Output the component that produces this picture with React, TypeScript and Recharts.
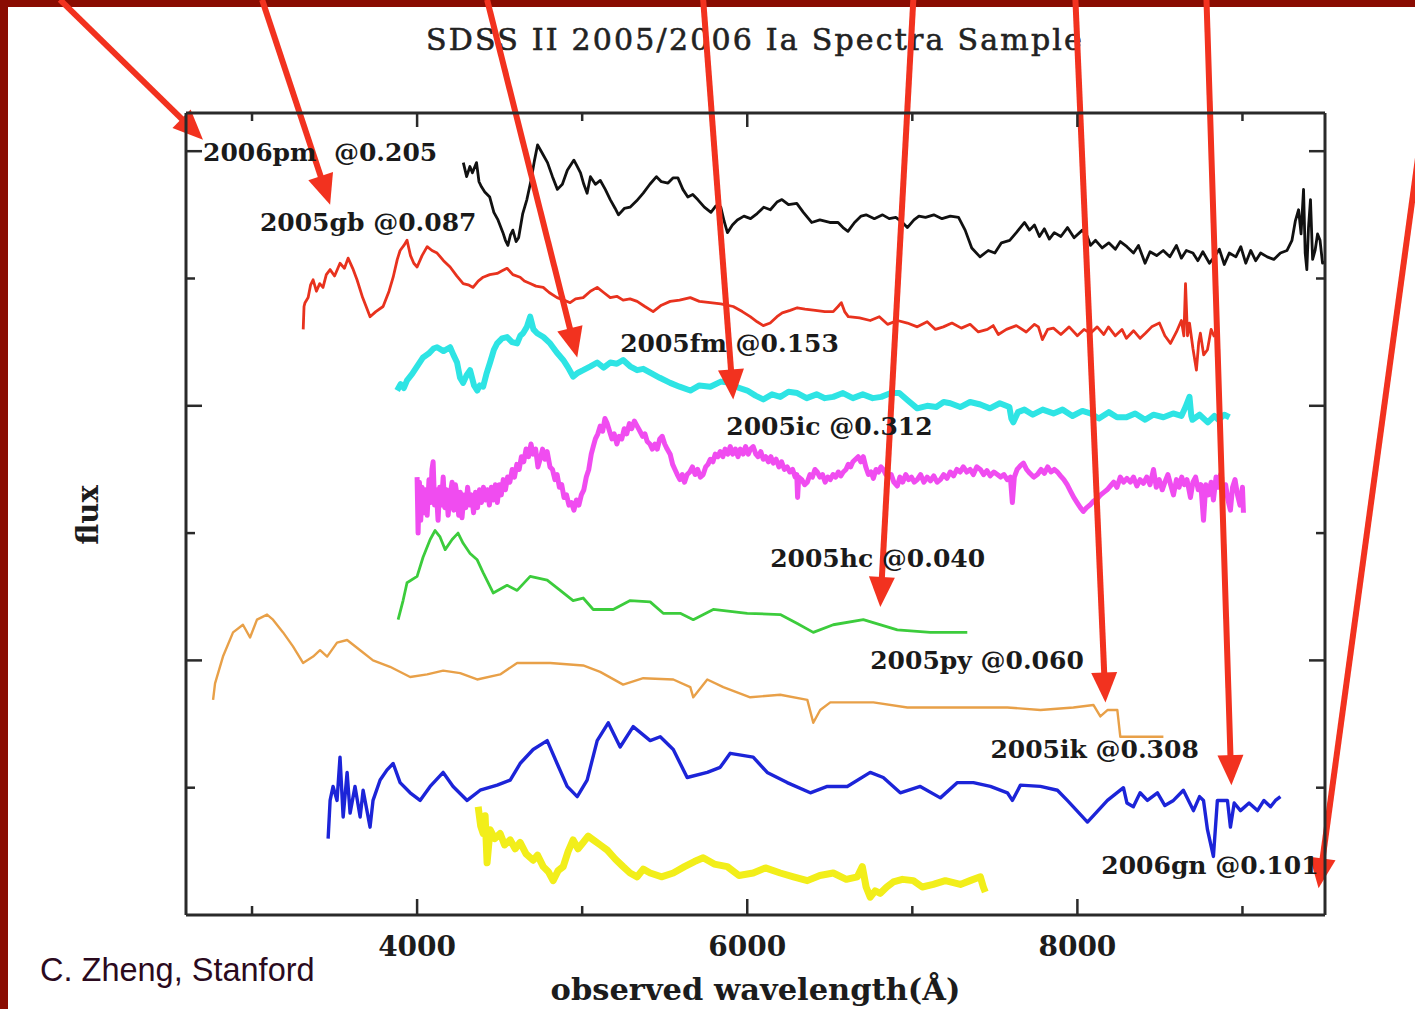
import React from "react"
import { ComposedChart, Line, Scatter, XAxis, YAxis, ReferenceLine } from "recharts"

// wavelength (Å), flux (arbitrary units, each spectrum offset)
const sn2006pm = [
  [4280, 5.91], [4300, 5.8], [4320, 5.88], [4335, 5.83], [4360, 5.91], [4375, 5.76], [4390, 5.72], [4410, 5.68],
  [4440, 5.64], [4465, 5.52], [4490, 5.46], [4520, 5.36], [4535, 5.3], [4550, 5.26], [4565, 5.34], [4580, 5.38],
  [4600, 5.29], [4615, 5.32], [4640, 5.51], [4665, 5.62], [4690, 5.77], [4710, 5.92], [4730, 6.05], [4760, 5.98],
  [4790, 5.91], [4820, 5.8], [4850, 5.7], [4880, 5.74], [4910, 5.85], [4950, 5.93], [4970, 5.88], [4990, 5.83],
  [5010, 5.74], [5030, 5.67], [5050, 5.8], [5080, 5.74], [5110, 5.77], [5140, 5.7], [5170, 5.62], [5200, 5.55],
  [5220, 5.5], [5255, 5.55], [5290, 5.56], [5330, 5.61], [5370, 5.67], [5410, 5.74], [5450, 5.8], [5480, 5.76],
  [5520, 5.75], [5550, 5.79], [5580, 5.79], [5610, 5.7], [5640, 5.64], [5670, 5.66], [5700, 5.62], [5740, 5.56],
  [5780, 5.52], [5810, 5.57], [5840, 5.56], [5860, 5.45], [5880, 5.36], [5910, 5.42], [5940, 5.46], [5980, 5.49],
  [6020, 5.47], [6060, 5.51], [6100, 5.56], [6140, 5.54], [6180, 5.6], [6210, 5.62], [6250, 5.58], [6300, 5.59],
  [6340, 5.52], [6390, 5.44], [6440, 5.46], [6500, 5.44], [6550, 5.44], [6580, 5.4], [6610, 5.37], [6650, 5.44],
  [6690, 5.49], [6720, 5.5], [6770, 5.47], [6820, 5.5], [6860, 5.47], [6900, 5.48], [6940, 5.44], [6970, 5.4],
  [7010, 5.46], [7040, 5.49], [7080, 5.48], [7130, 5.5], [7180, 5.47], [7230, 5.49], [7280, 5.48], [7320, 5.38],
  [7360, 5.24], [7410, 5.17], [7460, 5.22], [7500, 5.2], [7540, 5.28], [7590, 5.3], [7630, 5.36], [7680, 5.44],
  [7710, 5.38], [7740, 5.42], [7770, 5.33], [7800, 5.39], [7830, 5.31], [7860, 5.36], [7900, 5.33], [7940, 5.4],
  [7980, 5.32], [8030, 5.38], [8060, 5.33], [8080, 5.26], [8110, 5.3], [8150, 5.24], [8190, 5.28], [8230, 5.23],
  [8260, 5.29], [8300, 5.25], [8340, 5.2], [8370, 5.26], [8410, 5.12], [8440, 5.21], [8480, 5.18], [8520, 5.22],
  [8560, 5.17], [8600, 5.26], [8630, 5.16], [8660, 5.22], [8700, 5.2], [8730, 5.14], [8760, 5.21], [8800, 5.12],
  [8830, 5.17], [8860, 5.23], [8890, 5.11], [8920, 5.2], [8960, 5.17], [8990, 5.25], [9020, 5.12], [9050, 5.22],
  [9080, 5.14], [9110, 5.2], [9150, 5.17], [9190, 5.15], [9230, 5.2], [9270, 5.22], [9300, 5.3], [9320, 5.45],
  [9340, 5.54], [9355, 5.35], [9370, 5.7], [9380, 5.2], [9390, 5.07], [9400, 5.4], [9412, 5.62], [9425, 5.15],
  [9440, 5.22], [9455, 5.35], [9470, 5.3], [9485, 5.12], [9500, 5.13],
]

const sn2005gb = [
  [3310, 4.6], [3315, 4.78], [3321, 4.81], [3340, 4.85], [3355, 4.95], [3370, 4.99], [3390, 4.9], [3410, 4.96],
  [3430, 4.93], [3450, 5.03], [3473, 5.07], [3500, 5.02], [3533, 5.12], [3560, 5.08], [3582, 5.16], [3610, 5.08],
  [3636, 4.99], [3670, 4.85], [3700, 4.75], [3715, 4.7], [3750, 4.74], [3794, 4.78], [3830, 4.9], [3855, 5.01],
  [3880, 5.15], [3897, 5.22], [3920, 5.26], [3939, 5.3], [3960, 5.18], [3980, 5.12], [4000, 5.09], [4030, 5.18],
  [4061, 5.25], [4090, 5.22], [4121, 5.2], [4160, 5.14], [4200, 5.09], [4240, 5.02], [4279, 4.96], [4310, 4.95],
  [4339, 4.93], [4370, 4.98], [4400, 5.01], [4440, 5.03], [4485, 5.04], [4515, 5.06], [4545, 5.08], [4580, 5.03],
  [4624, 5.01], [4650, 4.98], [4685, 4.96], [4720, 4.94], [4764, 4.93], [4800, 4.89], [4848, 4.85], [4890, 4.83],
  [4927, 4.81], [4960, 4.84], [5006, 4.85], [5050, 4.9], [5091, 4.93], [5130, 4.89], [5170, 4.85], [5210, 4.86],
  [5248, 4.83], [5290, 4.84], [5333, 4.82], [5380, 4.78], [5430, 4.74], [5480, 4.79], [5533, 4.82], [5590, 4.83],
  [5655, 4.85], [5710, 4.82], [5776, 4.81], [5840, 4.8], [5915, 4.78], [5970, 4.74], [6018, 4.7], [6060, 4.66],
  [6097, 4.63], [6139, 4.65], [6180, 4.7], [6212, 4.73], [6260, 4.75], [6303, 4.77], [6350, 4.76], [6412, 4.75],
  [6470, 4.74], [6521, 4.74], [6550, 4.78], [6570, 4.81], [6590, 4.74], [6612, 4.7], [6680, 4.69], [6745, 4.67],
  [6800, 4.7], [6850, 4.64], [6910, 4.67], [6970, 4.65], [7030, 4.62], [7090, 4.66], [7140, 4.6], [7188, 4.62],
  [7240, 4.65], [7297, 4.61], [7350, 4.64], [7400, 4.58], [7455, 4.6], [7490, 4.63], [7521, 4.56], [7570, 4.6],
  [7630, 4.63], [7690, 4.58], [7740, 4.64], [7764, 4.62], [7788, 4.52], [7820, 4.6], [7855, 4.61], [7900, 4.56],
  [7950, 4.62], [8000, 4.55], [8040, 4.6], [8079, 4.57], [8120, 4.62], [8160, 4.56], [8188, 4.62], [8230, 4.55],
  [8270, 4.6], [8297, 4.53], [8340, 4.59], [8380, 4.53], [8412, 4.57], [8450, 4.62], [8497, 4.65], [8530, 4.55],
  [8564, 4.49], [8600, 4.58], [8630, 4.67], [8645, 4.55], [8655, 4.96], [8667, 4.55], [8679, 4.65], [8700, 4.45],
  [8721, 4.28], [8735, 4.5], [8745, 4.57], [8765, 4.4], [8788, 4.44], [8810, 4.6], [8830, 4.54],
]

const sn2005fm = [
  [3879, 4.12], [3900, 4.17], [3920, 4.14], [3939, 4.2], [3970, 4.25], [4000, 4.31], [4036, 4.38], [4070, 4.41],
  [4100, 4.45], [4121, 4.46], [4160, 4.43], [4200, 4.46], [4220, 4.4], [4242, 4.34], [4260, 4.22], [4279, 4.18],
  [4300, 4.24], [4321, 4.28], [4345, 4.16], [4364, 4.12], [4380, 4.16], [4400, 4.15], [4420, 4.25], [4442, 4.34],
  [4465, 4.44], [4485, 4.49], [4515, 4.53], [4545, 4.54], [4575, 4.5], [4606, 4.49], [4625, 4.55], [4642, 4.57],
  [4665, 4.62], [4685, 4.7], [4705, 4.6], [4727, 4.57], [4765, 4.54], [4806, 4.49], [4845, 4.42], [4885, 4.36],
  [4915, 4.3], [4945, 4.23], [4975, 4.26], [5006, 4.28], [5050, 4.31], [5091, 4.34], [5130, 4.3], [5170, 4.34],
  [5210, 4.33], [5248, 4.36], [5290, 4.31], [5333, 4.28], [5370, 4.29], [5412, 4.26], [5470, 4.22], [5533, 4.18],
  [5590, 4.15], [5655, 4.12], [5710, 4.16], [5776, 4.15], [5840, 4.19], [5897, 4.18], [5950, 4.14], [6000, 4.12],
  [6050, 4.08], [6097, 4.05], [6150, 4.09], [6200, 4.07], [6250, 4.11], [6303, 4.1], [6360, 4.06], [6420, 4.09],
  [6470, 4.06], [6521, 4.07], [6580, 4.1], [6640, 4.06], [6700, 4.09], [6760, 4.06], [6812, 4.07], [6870, 4.1],
  [6921, 4.1], [6975, 4.04], [7030, 3.98], [7090, 4.0], [7145, 3.99], [7190, 4.03], [7230, 4.02], [7290, 3.99],
  [7350, 4.03], [7412, 4.01], [7470, 3.98], [7530, 4.02], [7588, 3.99], [7600, 3.9], [7612, 3.87], [7640, 3.95],
  [7679, 3.97], [7730, 3.93], [7790, 3.97], [7855, 3.94], [7910, 3.97], [7970, 3.92], [8030, 3.96], [8079, 3.94],
  [8130, 3.9], [8190, 3.95], [8240, 3.91], [8297, 3.91], [8350, 3.94], [8410, 3.89], [8460, 3.93], [8521, 3.91],
  [8580, 3.94], [8630, 3.92], [8655, 3.99], [8679, 4.07], [8690, 3.92], [8697, 3.89], [8740, 3.93], [8790, 3.87],
  [8830, 3.92], [8855, 3.89], [8890, 3.93], [8921, 3.91],
]

const sn2005ic = [
  [4000, 3.44], [4006, 3.0], [4014, 3.4], [4022, 3.1], [4030, 3.36], [4040, 3.16], [4050, 3.34], [4061, 3.14],
  [4072, 3.42], [4082, 3.24], [4090, 3.5], [4097, 3.56], [4106, 3.22], [4116, 3.34], [4127, 3.1], [4137, 3.36],
  [4147, 3.22], [4158, 3.44], [4168, 3.2], [4178, 3.34], [4188, 3.14], [4200, 3.3], [4212, 3.4], [4222, 3.18],
  [4232, 3.38], [4242, 3.3], [4252, 3.14], [4262, 3.32], [4272, 3.12], [4284, 3.3], [4295, 3.2], [4306, 3.36],
  [4318, 3.22], [4330, 3.3], [4342, 3.16], [4354, 3.32], [4366, 3.2], [4378, 3.34], [4390, 3.24], [4402, 3.36],
  [4414, 3.26], [4426, 3.34], [4438, 3.22], [4450, 3.36], [4462, 3.26], [4474, 3.38], [4486, 3.24], [4498, 3.38],
  [4510, 3.3], [4522, 3.42], [4535, 3.34], [4548, 3.44], [4562, 3.4], [4576, 3.5], [4590, 3.44], [4604, 3.54],
  [4618, 3.5], [4632, 3.6], [4646, 3.56], [4660, 3.66], [4675, 3.6], [4690, 3.7], [4703, 3.62], [4718, 3.66],
  [4732, 3.52], [4745, 3.58], [4760, 3.66], [4774, 3.58], [4788, 3.64], [4805, 3.52], [4820, 3.5], [4835, 3.42],
  [4848, 3.46], [4862, 3.36], [4876, 3.38], [4890, 3.28], [4905, 3.3], [4920, 3.22], [4935, 3.24], [4950, 3.18],
  [4965, 3.26], [4980, 3.22], [4995, 3.3], [5010, 3.34], [5025, 3.44], [5040, 3.5], [5055, 3.62], [5067, 3.68],
  [5080, 3.74], [5095, 3.78], [5109, 3.84], [5124, 3.8], [5138, 3.9], [5152, 3.86], [5166, 3.8], [5180, 3.74],
  [5194, 3.78], [5210, 3.7], [5224, 3.76], [5240, 3.74], [5255, 3.82], [5270, 3.78], [5286, 3.86], [5300, 3.82],
  [5316, 3.88], [5333, 3.84], [5350, 3.8], [5366, 3.76], [5380, 3.78], [5394, 3.72], [5410, 3.7], [5425, 3.66],
  [5440, 3.7], [5455, 3.66], [5470, 3.74], [5485, 3.76], [5500, 3.7], [5515, 3.66], [5533, 3.62], [5548, 3.54],
  [5562, 3.5], [5576, 3.46], [5592, 3.42], [5606, 3.46], [5620, 3.4], [5636, 3.46], [5652, 3.48], [5668, 3.52],
  [5684, 3.46], [5700, 3.5], [5716, 3.44], [5733, 3.46], [5748, 3.52], [5762, 3.54], [5776, 3.58], [5792, 3.56],
  [5806, 3.62], [5822, 3.6], [5836, 3.64], [5852, 3.6], [5866, 3.66], [5882, 3.62], [5897, 3.68], [5912, 3.62],
  [5928, 3.66], [5944, 3.6], [5958, 3.66], [5975, 3.62], [5990, 3.68], [6006, 3.62], [6020, 3.66], [6036, 3.68],
  [6052, 3.62], [6066, 3.6], [6082, 3.64], [6097, 3.58], [6112, 3.6], [6128, 3.56], [6143, 3.6], [6158, 3.55],
  [6175, 3.58], [6192, 3.52], [6208, 3.56], [6225, 3.5], [6242, 3.52], [6258, 3.48], [6275, 3.5], [6290, 3.44],
  [6300, 3.46], [6305, 3.28], [6312, 3.44], [6330, 3.42], [6348, 3.38], [6364, 3.4], [6380, 3.46], [6395, 3.44],
  [6410, 3.5], [6424, 3.48], [6440, 3.44], [6456, 3.46], [6472, 3.4], [6488, 3.44], [6503, 3.42], [6520, 3.46],
  [6536, 3.44], [6552, 3.48], [6567, 3.45], [6582, 3.48], [6598, 3.5], [6612, 3.54], [6626, 3.52], [6640, 3.56],
  [6656, 3.58], [6672, 3.6], [6688, 3.56], [6703, 3.6], [6718, 3.52], [6734, 3.46], [6750, 3.48], [6764, 3.43],
  [6780, 3.5], [6796, 3.48], [6810, 3.52], [6824, 3.5], [6840, 3.46], [6856, 3.44], [6872, 3.46], [6888, 3.4],
  [6909, 3.37], [6925, 3.44], [6942, 3.4], [6960, 3.46], [6978, 3.42], [6995, 3.44], [7012, 3.4], [7030, 3.42],
  [7050, 3.46], [7070, 3.4], [7090, 3.44], [7110, 3.41], [7130, 3.45], [7150, 3.4], [7170, 3.42], [7190, 3.46],
  [7210, 3.43], [7230, 3.48], [7250, 3.45], [7270, 3.5], [7290, 3.48], [7309, 3.52], [7330, 3.48], [7350, 3.5],
  [7370, 3.46], [7390, 3.52], [7412, 3.5], [7432, 3.46], [7452, 3.49], [7472, 3.45], [7494, 3.48], [7515, 3.46],
  [7535, 3.44], [7555, 3.46], [7575, 3.42], [7594, 3.44], [7606, 3.24], [7618, 3.44], [7635, 3.5], [7655, 3.53],
  [7673, 3.55], [7692, 3.5], [7712, 3.47], [7735, 3.44], [7758, 3.46], [7780, 3.5], [7800, 3.47], [7820, 3.52],
  [7840, 3.48], [7860, 3.5], [7879, 3.48], [7898, 3.45], [7918, 3.42], [7938, 3.38], [7958, 3.33], [7978, 3.28],
  [7998, 3.24], [8018, 3.2], [8036, 3.17], [8056, 3.2], [8076, 3.22], [8096, 3.25], [8121, 3.27], [8140, 3.3],
  [8160, 3.32], [8180, 3.34], [8200, 3.37], [8220, 3.4], [8240, 3.36], [8260, 3.44], [8280, 3.4], [8300, 3.43],
  [8321, 3.4], [8340, 3.44], [8360, 3.37], [8380, 3.42], [8400, 3.39], [8420, 3.44], [8440, 3.38], [8461, 3.5],
  [8478, 3.36], [8496, 3.42], [8514, 3.34], [8530, 3.4], [8548, 3.46], [8565, 3.38], [8582, 3.3], [8600, 3.42],
  [8616, 3.36], [8632, 3.44], [8648, 3.38], [8664, 3.42], [8685, 3.28], [8700, 3.4], [8716, 3.44], [8732, 3.34],
  [8748, 3.38], [8764, 3.1], [8778, 3.38], [8794, 3.3], [8810, 3.4], [8824, 3.26], [8840, 3.44], [8856, 3.36],
  [8867, 3.46], [8882, 3.3], [8898, 3.38], [8912, 3.26], [8927, 3.18], [8940, 3.36], [8955, 3.42], [8970, 3.3],
  [8985, 3.22], [9000, 3.36], [9006, 3.16],
]

const sn2005hc = [
  [3885, 2.32], [3915, 2.47], [3939, 2.61], [4000, 2.66], [4036, 2.81], [4079, 2.95], [4109, 3.02], [4139, 2.97],
  [4170, 2.87], [4212, 2.95], [4248, 3.0], [4279, 2.92], [4321, 2.84], [4364, 2.79], [4400, 2.69], [4461, 2.53],
  [4545, 2.59], [4606, 2.55], [4685, 2.66], [4788, 2.63], [4867, 2.55], [4945, 2.47], [5006, 2.49], [5067, 2.4],
  [5188, 2.4], [5291, 2.47], [5412, 2.46], [5491, 2.37], [5594, 2.37], [5673, 2.32], [5794, 2.4], [6000, 2.37],
  [6200, 2.36], [6303, 2.29], [6400, 2.22], [6521, 2.28], [6703, 2.32], [6909, 2.24], [7109, 2.22], [7333, 2.22],
]

const sn2005py = [
  [2764, 1.69], [2776, 1.82], [2824, 2.03], [2885, 2.22], [2945, 2.28], [2988, 2.18], [3030, 2.32], [3091, 2.36],
  [3127, 2.32], [3188, 2.22], [3248, 2.11], [3309, 1.98], [3370, 2.03], [3412, 2.08], [3455, 2.03], [3515, 2.14],
  [3576, 2.16], [3655, 2.08], [3733, 2.0], [3836, 1.95], [3958, 1.87], [4061, 1.89], [4158, 1.92], [4261, 1.9],
  [4364, 1.85], [4503, 1.89], [4606, 1.98], [4806, 1.98], [5006, 1.96], [5109, 1.91], [5248, 1.81], [5370, 1.86],
  [5552, 1.85], [5655, 1.79], [5673, 1.71], [5758, 1.85], [5855, 1.79], [6018, 1.71], [6200, 1.73], [6364, 1.69],
  [6400, 1.51], [6442, 1.61], [6503, 1.67], [6764, 1.67], [6970, 1.63], [7291, 1.63], [7576, 1.63], [7776, 1.61],
  [7976, 1.63], [8097, 1.65], [8139, 1.56], [8182, 1.61], [8242, 1.61], [8260, 1.4], [8382, 1.4], [8521, 1.4],
]

const sn2005ik = [
  [3461, 0.6], [3473, 0.9], [3491, 1.01], [3515, 0.9], [3533, 1.24], [3552, 0.77], [3576, 1.12], [3594, 0.8],
  [3624, 1.01], [3655, 0.77], [3673, 0.98], [3715, 0.69], [3733, 0.9], [3776, 1.06], [3818, 1.14], [3855, 1.19],
  [3897, 1.04], [3958, 0.96], [4018, 0.9], [4079, 1.01], [4158, 1.12], [4218, 1.01], [4303, 0.9], [4382, 0.98],
  [4485, 1.02], [4564, 1.06], [4624, 1.19], [4703, 1.3], [4788, 1.37], [4848, 1.19], [4909, 1.01], [4970, 0.93],
  [5030, 1.06], [5091, 1.37], [5158, 1.51], [5230, 1.32], [5309, 1.48], [5412, 1.37], [5473, 1.4], [5552, 1.3],
  [5636, 1.08], [5758, 1.12], [5836, 1.16], [5897, 1.27], [6036, 1.24], [6121, 1.12], [6242, 1.04], [6382, 0.96],
  [6485, 1.01], [6606, 1.01], [6745, 1.12], [6824, 1.08], [6927, 0.96], [7048, 1.01], [7170, 0.92], [7273, 1.04],
  [7370, 1.04], [7473, 1.01], [7576, 0.96], [7606, 0.9], [7655, 1.02], [7776, 1.01], [7879, 0.98], [7939, 0.9],
  [8061, 0.73], [8182, 0.9], [8279, 1.0], [8300, 0.88], [8339, 0.85], [8380, 0.96], [8424, 0.9], [8485, 0.96],
  [8530, 0.86], [8582, 0.9], [8642, 0.98], [8703, 0.82], [8740, 0.93], [8764, 0.9], [8788, 0.67], [8824, 0.46],
  [8848, 0.9], [8909, 0.9], [8927, 0.69], [8950, 0.88], [8988, 0.82], [9040, 0.88], [9091, 0.82], [9130, 0.9],
  [9170, 0.85], [9200, 0.9], [9230, 0.93],
]

const sn2006gn = [
  [4370, 0.85], [4385, 0.7], [4400, 0.64], [4412, 0.78], [4424, 0.41], [4442, 0.67], [4470, 0.6], [4503, 0.64],
  [4530, 0.55], [4564, 0.59], [4594, 0.52], [4624, 0.57], [4660, 0.48], [4703, 0.43], [4730, 0.47], [4764, 0.38],
  [4795, 0.34], [4824, 0.27], [4855, 0.35], [4885, 0.38], [4915, 0.5], [4945, 0.59], [4975, 0.52], [5006, 0.57],
  [5036, 0.62], [5067, 0.59], [5110, 0.55], [5152, 0.51], [5200, 0.44], [5248, 0.38], [5290, 0.33], [5333, 0.3],
  [5370, 0.36], [5412, 0.33], [5480, 0.3], [5552, 0.33], [5620, 0.38], [5680, 0.42], [5733, 0.45], [5800, 0.4],
  [5879, 0.38], [5950, 0.31], [6036, 0.33], [6110, 0.37], [6200, 0.33], [6280, 0.3], [6364, 0.27], [6440, 0.31],
  [6521, 0.33], [6600, 0.28], [6667, 0.3], [6697, 0.38], [6720, 0.22], [6745, 0.14], [6775, 0.19], [6806, 0.17],
  [6845, 0.22], [6885, 0.26], [6940, 0.28], [7006, 0.27], [7060, 0.22], [7127, 0.24], [7200, 0.27], [7291, 0.24],
  [7350, 0.27], [7412, 0.3], [7430, 0.22], [7442, 0.18],
]

const spectra = [
  { name: "2006pm", color: "#111111", width: 2.8, pts: sn2006pm },
  { name: "2005gb", color: "#e8321e", width: 2.8, pts: sn2005gb },
  { name: "2005fm", color: "#2ee4e4", width: 6, pts: sn2005fm },
  { name: "2005ic", color: "#f04cf0", width: 5, pts: sn2005ic },
  { name: "2005hc", color: "#3ccc3c", width: 2.8, pts: sn2005hc },
  { name: "2005py", color: "#e8a048", width: 2.4, pts: sn2005py },
  { name: "2005ik", color: "#1c24d8", width: 3.4, pts: sn2005ik },
  { name: "2006gn", color: "#f2ee1a", width: 7, pts: sn2006gn },
]

const labelText = [
  "2006pm\u00a0\u00a0@0.205", "2005gb @0.087", "2005fm @0.153", "2005ic @0.312",
  "2005hc @0.040", "2005py @0.060", "2005ik @0.308", "2006gn @0.101",
]
const labelW = [2703, 3048, 5230, 5873, 6139, 6745, 7473, 8145]
const labelF = [5.99, 5.44, 4.49, 3.84, 2.8, 2.0, 1.3, 0.39]

const arrowFrom = [
  [1836, 7.19], [3061, 7.19], [4424, 7.19], [5733, 7.19],
  [7006, 7.19], [7988, 7.19], [8782, 7.19], [10194, 7.19],
]
const arrowTo = [
  [2703, 6.09], [3473, 5.58], [4970, 4.38], [5915, 4.05],
  [6806, 2.42], [8170, 1.67], [8933, 1.02], [9461, 0.21],
]

const xTicks = [3000, 4000, 5000, 6000, 7000, 8000, 9000]
const xLabelTicks = [4000, 6000, 8000]
const yTicks = [1, 2, 3, 4, 5, 6]
const yMajorTicks = [2, 4, 6]

const toPts = (a: number[][]) => a.map(([w, f]) => ({ w, f }))
const labels = labelText.map((text, i) => ({ w: labelW[i], f: labelF[i], text }))

const axisColor = "#2a2a2a"
const serif = "'DejaVu Serif', serif"

function BottomTick({ x, y, payload }: any) {
  const major = xLabelTicks.includes(payload.value)
  return (
    <g>
      <line x1={x} y1={y} x2={x} y2={y - (major ? 16 : 9)} stroke={axisColor} strokeWidth={2.5} />
      {major && (
        <text x={x} y={y + 31} textAnchor="middle" dominantBaseline="central"
          fontFamily={serif} fontWeight="bold" fontSize={28} fill="#1c1c1c">
          {payload.value}
        </text>
      )}
    </g>
  )
}

function TopTick({ x, y, payload }: any) {
  const major = xLabelTicks.includes(payload.value)
  return <line x1={x} y1={y} x2={x} y2={y + (major ? 14 : 8)} stroke={axisColor} strokeWidth={2.5} />
}

function LeftTick({ x, y, payload }: any) {
  const major = yMajorTicks.includes(payload.value)
  return <line x1={x} y1={y} x2={x + (major ? 16 : 9)} y2={y} stroke={axisColor} strokeWidth={2.5} />
}

function RightTick({ x, y, payload }: any) {
  const major = yMajorTicks.includes(payload.value)
  return <line x1={x} y1={y} x2={x - (major ? 16 : 9)} y2={y} stroke={axisColor} strokeWidth={2.5} />
}

function LabelShape({ cx, cy, payload }: any) {
  return (
    <text x={cx} y={cy} dominantBaseline="central" fontFamily={serif} fontWeight="bold"
      fontSize={25} fill="#1a1a1a">
      {payload.text}
    </text>
  )
}

function Arrow({ x1, y1, x2, y2 }: any) {
  const dx = x2 - x1
  const dy = y2 - y1
  const len = Math.sqrt(dx * dx + dy * dy)
  const ux = dx / len
  const uy = dy / len
  const head = 30
  const half = 13
  const bx = x2 - ux * head
  const by = y2 - uy * head
  return (
    <g>
      <line x1={x1} y1={y1} x2={bx + ux * 2} y2={by + uy * 2} stroke="#f2321f" strokeWidth={6} />
      <polygon
        points={`${x2},${y2} ${bx - uy * half},${by + ux * half} ${bx + uy * half},${by - ux * half}`}
        fill="#f2321f"
      />
    </g>
  )
}

export default function App() {
  return (
    <div style={{ position: "absolute", left: 0, top: 0, width: 1415, height: 1009, background: "#fff", overflow: "hidden" }}>
      <div style={{ position: "absolute", left: 0, top: 0, width: 1415, height: 7, background: "#8a0c02" }} />
      <div style={{ position: "absolute", left: 0, top: 0, width: 8, height: 1009, background: "#8a0c02" }} />
      <div style={{
        position: "absolute", left: 0, top: 22, width: 1510, textAlign: "center",
        fontFamily: serif, fontSize: 30, letterSpacing: 2.2, color: "#222", WebkitTextStroke: "0.6px #222",
      }}>
        SDSS II 2005/2006 Ia Spectra Sample
      </div>
      <div style={{
        position: "absolute", left: 0, top: 971, width: 1511, textAlign: "center",
        fontFamily: serif, fontWeight: "bold", fontSize: 30.5, color: "#1c1c1c",
      }}>
        observed wavelength(Å)
      </div>
      <div style={{
        position: "absolute", left: 88, top: 515, transform: "translate(-50%, -50%) rotate(-90deg)",
        fontFamily: serif, fontWeight: "bold", fontSize: 29, color: "#1c1c1c", whiteSpace: "nowrap",
      }}>
        flux
      </div>
      <div style={{
        position: "absolute", left: 40, top: 952, fontFamily: "'Liberation Sans', Arial, sans-serif",
        fontSize: 32.5, color: "#2b0a1e", whiteSpace: "nowrap",
      }}>
        C. Zheng, Stanford
      </div>
      <div style={{ position: "absolute", left: 0, top: 0 }}>
        <ComposedChart width={1415} height={1009} margin={{ top: 112, right: 89, bottom: 93, left: 185 }}>
          <XAxis dataKey="w" type="number" domain={[2600, 9500]} allowDataOverflow ticks={xTicks} interval={0}
            height={1} tickSize={0} tickMargin={0} tickLine={false} tick={<BottomTick />}
            axisLine={{ stroke: axisColor, strokeWidth: 3 }} />
          <XAxis xAxisId="top" orientation="top" dataKey="w" type="number" domain={[2600, 9500]} allowDataOverflow
            ticks={xTicks} interval={0} height={1} tickSize={0} tickMargin={0} tickLine={false} tick={<TopTick />}
            axisLine={{ stroke: axisColor, strokeWidth: 3 }} />
          <YAxis dataKey="f" type="number" domain={[0, 6.3]} allowDataOverflow ticks={yTicks} interval={0}
            width={1} tickSize={0} tickMargin={0} tickLine={false} tick={<LeftTick />}
            axisLine={{ stroke: axisColor, strokeWidth: 3 }} />
          <YAxis yAxisId="right" orientation="right" type="number" domain={[0, 6.3]} allowDataOverflow ticks={yTicks}
            interval={0} width={1} tickSize={0} tickMargin={0} tickLine={false} tick={<RightTick />}
            axisLine={{ stroke: axisColor, strokeWidth: 3 }} />
          {spectra.map((s) => (
            <Line key={s.name} data={toPts(s.pts)} dataKey="f" type="linear" stroke={s.color}
              strokeWidth={s.width} strokeLinejoin="round" dot={false} activeDot={false}
              isAnimationActive={false} />
          ))}
          <Scatter data={labels} dataKey="f" shape={<LabelShape />} isAnimationActive={false} />
          {arrowFrom.map((p, i) => (
            <ReferenceLine key={i} ifOverflow="visible" shape={<Arrow />}
              segment={[{ x: p[0], y: p[1] }, { x: arrowTo[i][0], y: arrowTo[i][1] }]} />
          ))}
        </ComposedChart>
      </div>
    </div>
  )
}
